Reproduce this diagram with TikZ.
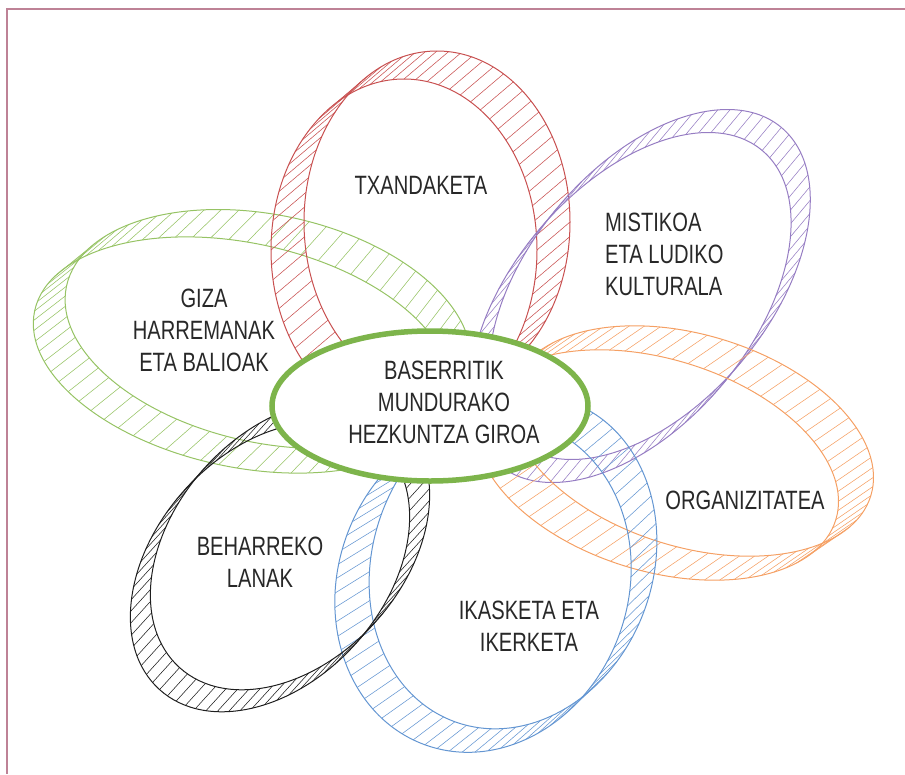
\documentclass[tikz,border=0pt]{standalone}
\usepackage{fontspec}
\setmainfont{Liberation Sans}[FakeStretch=0.76]
\usetikzlibrary{shapes.geometric}
\definecolor{ringRed}{RGB}{200,80,80}
\definecolor{ringGreen}{RGB}{150,195,100}
\definecolor{ringPurple}{RGB}{150,125,195}
\definecolor{ringOrange}{RGB}{245,160,100}
\definecolor{ringBlue}{RGB}{100,150,210}
\definecolor{ringBlack}{RGB}{30,30,30}
\definecolor{hubGreen}{RGB}{125,180,75}
\definecolor{frameRose}{RGB}{190,130,150}
\definecolor{textGray}{RGB}{40,40,40}

\tikzset{
  rim/.style={line width=1pt},
  hatch/.style={line width=0.55pt},
  caption/.style={font=\fontsize{26.5}{32}\selectfont, text=textGray, inner sep=0pt},
  hub/.style={ellipse, draw=hubGreen, line width=5.5pt, fill=white,
    minimum width=316pt, minimum height=150pt}
}

% a band between two rims, hatched from rim to rim
\newcommand{\hatchring}[6]{%
  \begin{scope}[#2]
    \draw[#1, rim] (0,0) ellipse (#3);
    \foreach \t in {0,5,...,355} \coordinate (p\t) at (\t:#3);
  \end{scope}
  \begin{scope}[#4]
    \draw[#1, rim] (0,0) ellipse (#5);
    \foreach \t in {0,5,...,355} \coordinate (q\t) at (\t+#6:#5);
  \end{scope}
  \foreach \t in {0,5,...,355} \draw[#1, hatch] (p\t) -- (q\t);
}

\begin{document}
\begin{tikzpicture}[x=1pt, y=-1pt]
    \useasboundingbox (0,0) rectangle (905,774);

    % Frame
    \draw[frameRose, line width=2pt] (905,8.5) -- (6.5,8.5) -- (6.5,774);

    % Rings
    \hatchring{ringGreen}{shift={(242,355)}, rotate=-12}{212 and 112}{shift={(268,329)}, rotate=-12}{206 and 114}{0}
    \hatchring{ringRed}{shift={(404,250)}}{133 and 171}{shift={(437,222)}}{133 and 171}{0}
    \hatchring{ringPurple}{shift={(630.4,307.5)}, rotate=50}{205 and 120}{shift={(649.6,284.5)}, rotate=50}{205 and 120}{0}
    \hatchring{ringOrange}{shift={(657,465)}, rotate=-17}{187 and 106}{shift={(692,441)}, rotate=-17}{187 and 106}{0}
    \hatchring{ringBlue}{shift={(483,585)}, rotate=-20}{145 and 170}{shift={(513,562)}, rotate=-20}{140 and 170}{0}
    \hatchring{ringBlack}{shift={(270,567)}, rotate=48}{165 and 115}{shift={(290,545)}, rotate=48}{165 and 115}{0}

    % Centre
    \node[hub] (hub) at (430,406) {};
    \node[caption, align=center] (hubtext) at (444,402) {BASERRITIK\\ MUNDURAKO\\ HEZKUNTZA GIROA};

    % Labels
    \node[caption, anchor=base] (txandaketa) at (421,194) {TXANDAKETA};
    \node[caption, align=center] (giza) at (204,330.5) {GIZA\\ HARREMANAK\\ ETA BALIOAK};
    \node[caption, align=left, anchor=west] (mistikoa) at (605,254.5) {MISTIKOA\\ ETA LUDIKO\\ KULTURALA};
    \node[caption, anchor=base] (organizi) at (745,509) {ORGANIZITATEA};
    \node[caption, align=center] (beharreko) at (260,562) {BEHARREKO\\ LANAK};
    \node[caption, align=center] (ikasketa) at (529,626) {IKASKETA ETA\\ IKERKETA};
\end{tikzpicture}
\end{document}
